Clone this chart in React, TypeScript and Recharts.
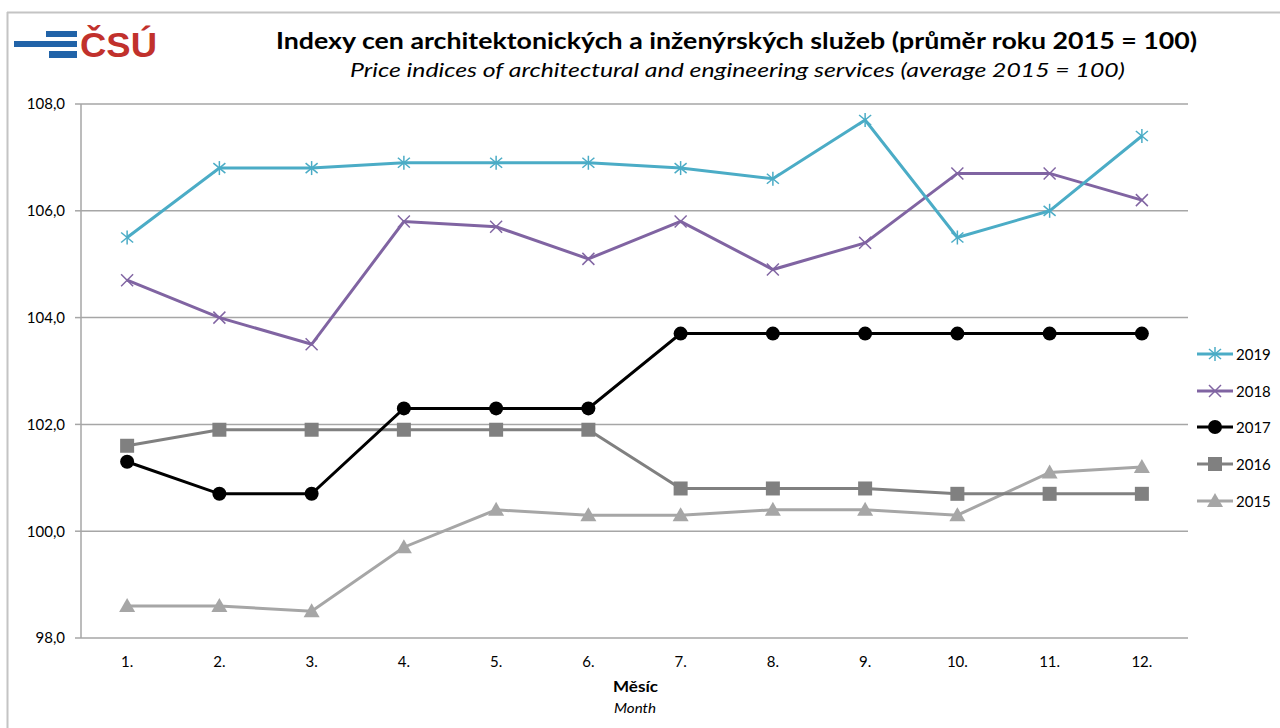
import React from "react";
import { CartesianGrid, Line, LineChart, XAxis, YAxis } from "recharts";

const MONTHS = [1, 2, 3, 4, 5, 6, 7, 8, 9, 10, 11, 12];
const Y2019 = [105.5, 106.8, 106.8, 106.9, 106.9, 106.9, 106.8, 106.6, 107.7, 105.5, 106.0, 107.4];
const Y2018 = [104.7, 104.0, 103.5, 105.8, 105.7, 105.1, 105.8, 104.9, 105.4, 106.7, 106.7, 106.2];
const Y2017 = [101.3, 100.7, 100.7, 102.3, 102.3, 102.3, 103.7, 103.7, 103.7, 103.7, 103.7, 103.7];
const Y2016 = [101.6, 101.9, 101.9, 101.9, 101.9, 101.9, 100.8, 100.8, 100.8, 100.7, 100.7, 100.7];
const Y2015 = [98.6, 98.6, 98.5, 99.7, 100.4, 100.3, 100.3, 100.4, 100.4, 100.3, 101.1, 101.2];
const Y_TICKS = [98, 100, 102, 104, 106, 108];
const BOUNDS = [0.5, 1.5, 2.5, 3.5, 4.5, 5.5, 6.5, 7.5, 8.5, 9.5, 10.5, 11.5, 12.5];

type Kind = "star" | "x" | "circle" | "square" | "triangle";
type Series = { key: string; name: string; color: string; kind: Kind; width: number };

// order as in legend (top to bottom)
const SERIES: Series[] = [
  { key: "y2019", name: "2019", color: "#4bacc6", kind: "star", width: 3 },
  { key: "y2018", name: "2018", color: "#8064a2", kind: "x", width: 3 },
  { key: "y2017", name: "2017", color: "#000000", kind: "circle", width: 3 },
  { key: "y2016", name: "2016", color: "#808080", kind: "square", width: 3 },
  { key: "y2015", name: "2015", color: "#a6a6a6", kind: "triangle", width: 3 },
];

const data = MONTHS.map((m, i) => ({
  month: m,
  y2019: Y2019[i],
  y2018: Y2018[i],
  y2017: Y2017[i],
  y2016: Y2016[i],
  y2015: Y2015[i],
}));

const FONT = "Lato, 'Open Sans', sans-serif";
const GRID = "#a6a6a6";

function Marker({ kind, color, cx, cy }: { kind: Kind; color: string; cx: number; cy: number }) {
  if (kind === "star") {
    return (
      <g stroke={color} strokeWidth={1.5}>
        <line x1={cx - 6} y1={cy - 5} x2={cx + 6} y2={cy + 5} />
        <line x1={cx - 6} y1={cy + 5} x2={cx + 6} y2={cy - 5} />
        <line x1={cx} y1={cy - 7} x2={cx} y2={cy + 7} />
      </g>
    );
  }
  if (kind === "x") {
    return (
      <g stroke={color} strokeWidth={1.5}>
        <line x1={cx - 6} y1={cy - 6} x2={cx + 6} y2={cy + 6} />
        <line x1={cx - 6} y1={cy + 6} x2={cx + 6} y2={cy - 6} />
      </g>
    );
  }
  if (kind === "circle") return <circle cx={cx} cy={cy} r={7} fill={color} />;
  if (kind === "square") return <rect x={cx - 7} y={cy - 7} width={14} height={14} fill={color} />;
  return <polygon points={`${cx},${cy - 8} ${cx + 8},${cy + 6} ${cx - 8},${cy + 6}`} fill={color} />;
}

function LegendBox() {
  return (
    <div style={{ position: "absolute", left: 1195, top: 336, fontFamily: FONT, fontSize: 15, color: "#000" }}>
      {SERIES.map((s) => (
        <div key={s.key} style={{ display: "flex", alignItems: "center", height: 36.6 }}>
          <svg width={40} height={20}>
            <line x1={2} y1={10} x2={38} y2={10} stroke={s.color} strokeWidth={s.width} />
            <Marker kind={s.kind} color={s.color} cx={20} cy={10} />
          </svg>
          <span style={{ marginLeft: 1 }}>{s.name}</span>
        </div>
      ))}
    </div>
  );
}

function Texts() {
  return (
    <svg width={1280} height={728} style={{ position: "absolute", left: 0, top: 0 }}>
      <line x1={7} y1={12.5} x2={1280} y2={12.5} stroke="#c4c4c4" strokeWidth={2} />
      <line x1={7.5} y1={12} x2={7.5} y2={728} stroke="#c4c4c4" strokeWidth={2} />
      {/* logo */}
      <rect x={46} y={31} width={31} height={6} fill="#2163a8" />
      <rect x={14} y={41} width={63} height={6} fill="#2163a8" />
      <rect x={49} y={51} width={28} height={7} fill="#2163a8" />
      <text x={80} y={57} textLength={77} lengthAdjust="spacingAndGlyphs" fontFamily="'Liberation Sans', Arial, sans-serif" fontWeight={700} fontSize={35} fill="#c1312c">
        ČSÚ
      </text>
      <text x={276} y={49} textLength={921} lengthAdjust="spacingAndGlyphs" fontFamily={FONT} fontWeight={700} fontSize={22} fill="#000">
        Indexy cen architektonických  a inženýrských služeb (průměr roku 2015 = 100)
      </text>
      <text x={350} y={77} textLength={775} lengthAdjust="spacingAndGlyphs" fontFamily={FONT} fontStyle="italic" fontSize={19.5} fill="#000">
        Price indices of architectural and engineering services (average 2015 = 100)
      </text>
      <text x={613} y={692} textLength={45} lengthAdjust="spacingAndGlyphs" fontFamily={FONT} fontWeight={700} fontSize={16} fill="#000">
        Měsíc
      </text>
      <text x={614} y={712.5} textLength={42} lengthAdjust="spacingAndGlyphs" fontFamily={FONT} fontStyle="italic" fontSize={14} fill="#000">
        Month
      </text>
    </svg>
  );
}

export default function App() {
  return (
    <div style={{ position: "absolute", left: 0, top: 0, width: 1280, height: 728, background: "#fff", overflow: "hidden" }}>
      <Texts />
      <div style={{ position: "absolute", left: 0, top: 0 }}>
        <LineChart width={1280} height={728} data={data} margin={{ top: 104, right: 92, bottom: 60, left: 0 }}>
          <CartesianGrid xAxisId="l" horizontal vertical={false} stroke={GRID} strokeWidth={1.5} />
          <XAxis
            xAxisId="m"
            type="number"
            dataKey="month"
            domain={[0.5, 12.5]}
            ticks={BOUNDS}
            tick={false}
            tickSize={6}
            height={0}
            stroke={GRID}
            strokeWidth={1.5}
            allowDataOverflow
          />
          <XAxis
            xAxisId="l"
            type="number"
            dataKey="month"
            domain={[0.5, 12.5]}
            ticks={MONTHS}
            tickFormatter={(v: number) => `${v}.`}
            axisLine={false}
            tickLine={false}
            height={30}
            tickMargin={12}
            tick={{ fill: "#000", fontSize: 15, fontFamily: FONT }}
            allowDataOverflow
          />
          <YAxis
            type="number"
            domain={[98, 108]}
            ticks={Y_TICKS}
            width={81}
            tickFormatter={(v: number) => v.toFixed(1).replace(".", ",")}
            stroke={GRID}
            strokeWidth={1.5}
            tickSize={6}
            tickMargin={10}
            tick={{ fill: "#000", fontSize: 15, fontFamily: FONT }}
          />
          {SERIES.slice()
            .reverse()
            .map((s) => (
              <Line
                key={s.key}
                xAxisId="l"
                dataKey={s.key}
                name={s.name}
                stroke={s.color}
                strokeWidth={s.width}
                isAnimationActive={false}
                dot={(p: any) => <Marker key={`${s.key}-${p.index}`} kind={s.kind} color={s.color} cx={p.cx} cy={p.cy} />}
                activeDot={false}
              />
            ))}
        </LineChart>
      </div>
      <LegendBox />
    </div>
  );
}
